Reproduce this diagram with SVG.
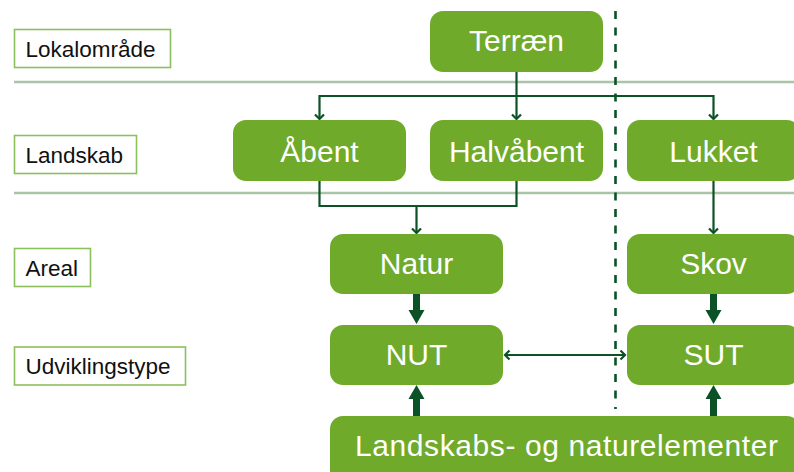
<svg xmlns="http://www.w3.org/2000/svg" width="794" height="472" viewBox="0 0 794 472">
<defs>
<style>
.lbl rect{fill:#fff;stroke:#8cc05c;stroke-width:1.6}
.lbl text{font-family:"Liberation Sans",Arial,sans-serif;font-size:22.5px;fill:#111}
.node rect{fill:#70aa2b}
.node text{font-family:"Liberation Sans",Arial,sans-serif;font-size:30px;fill:#fff;text-anchor:middle}
.sep{stroke:#aac4a8;stroke-width:2.5}
.con path{fill:none;stroke:#0b5226;stroke-width:2.2}
.thick{fill:#0b5226}
</style>
<marker id="chev" viewBox="-6 -6 12 12" markerWidth="12" markerHeight="12" markerUnits="userSpaceOnUse" refX="0" refY="0" orient="auto-start-reverse">
<path d="M-4.5,-4.5 L0,0 L-4.5,4.5" fill="none" stroke="#0b5226" stroke-width="2.2"/>
</marker>
</defs>
<rect width="794" height="472" fill="#fff"/>
<line class="sep" x1="14" y1="82" x2="794" y2="82"/>
<line class="sep" x1="14" y1="193" x2="794" y2="193"/>

<g id="label-lokalomraade" class="lbl"><rect x="14.5" y="29.5" width="156" height="38"/><text x="25.5" y="57">Lokalområde</text></g>
<g id="label-landskab" class="lbl"><rect x="14.5" y="135.5" width="122" height="38"/><text x="25.5" y="162.5">Landskab</text></g>
<g id="label-areal" class="lbl"><rect x="14.5" y="248.5" width="76" height="38"/><text x="25.5" y="276">Areal</text></g>
<g id="label-udviklingstype" class="lbl"><rect x="14.5" y="347" width="171" height="38"/><text x="25.5" y="374">Udviklingstype</text></g>

<line x1="615.5" y1="11" x2="615.5" y2="409" stroke="#0b5226" stroke-width="2.6" stroke-dasharray="8 8.5"/>

<g id="connectors">
<g class="con">
<path d="M516.5,72 V119" marker-end="url(#chev)"/>
<path d="M319.5,119 V96 H713.5 V119" marker-start="url(#chev)" marker-end="url(#chev)"/>
<path d="M319.5,181 V206 H516.5 V181"/>
<path d="M416.5,206 V233" marker-end="url(#chev)"/>
<path d="M713.5,181 V233" marker-end="url(#chev)"/>
<path d="M505,355 H625" marker-start="url(#chev)" marker-end="url(#chev)"/>
</g>
<polygon class="thick" points="413,294 420,294 420,310 424.5,310 416.5,324 408.5,310 413,310"/>
<polygon class="thick" points="710,294 717,294 717,310 721.5,310 713.5,324 705.5,310 710,310"/>
<polygon class="thick" points="413,416 420,416 420,399 424.5,399 416.5,385 408.5,399 413,399"/>
<polygon class="thick" points="710,416 717,416 717,399 721.5,399 713.5,385 705.5,399 710,399"/>
</g>

<g id="node-terraen" class="node"><rect x="430" y="11" width="173" height="61" rx="13"/><text x="516.5" y="51">Terræn</text></g>
<g id="node-aabent" class="node"><rect x="233" y="120" width="173" height="61" rx="13"/><text x="319.5" y="162">Åbent</text></g>
<g id="node-halvaabent" class="node"><rect x="430" y="120" width="173" height="61" rx="13"/><text x="516.5" y="162">Halvåbent</text></g>
<g id="node-lukket" class="node"><rect x="627" y="120" width="173" height="61" rx="13"/><text x="713.5" y="162">Lukket</text></g>
<g id="node-natur" class="node"><rect x="330" y="234" width="173" height="60" rx="13"/><text x="416.5" y="274">Natur</text></g>
<g id="node-skov" class="node"><rect x="627" y="234" width="173" height="60" rx="13"/><text x="713.5" y="274">Skov</text></g>
<g id="node-nut" class="node"><rect x="330" y="325" width="173" height="60" rx="13"/><text x="416.5" y="365">NUT</text></g>
<g id="node-sut" class="node"><rect x="627" y="325" width="173" height="60" rx="13"/><text x="713.5" y="365">SUT</text></g>
<g id="node-elementer" class="node"><rect x="330" y="416" width="470" height="70" rx="13"/><text x="566.5" y="456" textLength="423" lengthAdjust="spacing">Landskabs- og naturelementer</text></g>
</svg>
